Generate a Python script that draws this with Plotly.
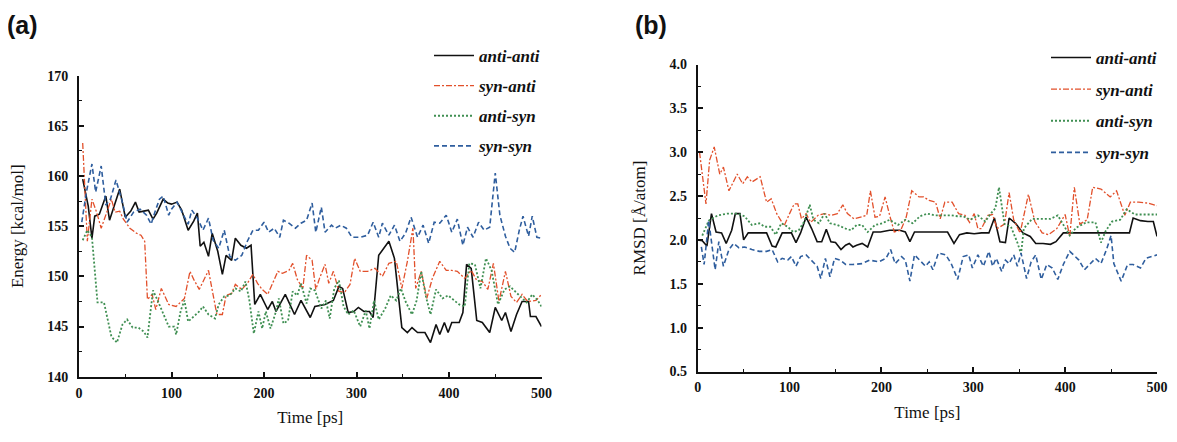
import plotly.graph_objects as go

# ---------------- Panel (a): Energy [kcal/mol] vs time [ps] ----------------
a_anti_anti_t = [4, 10, 14, 17, 22, 29, 33, 38, 44, 50, 56, 61, 65, 70, 75, 80, 84, 91, 96, 100,
                 106, 111, 118, 124, 128, 131, 135, 140, 144, 150, 155, 159, 165, 169, 175, 181, 186,
                 190, 196, 204, 209, 213, 223, 233, 240, 250, 255, 266, 275, 281, 285, 291, 297, 302,
                 308, 314, 318, 324, 335, 341, 349, 355, 360, 366, 374, 380, 386, 390, 395, 399, 403,
                 411, 415, 419, 424, 430, 436, 444, 450, 457, 461, 467, 473, 479, 486, 488, 494, 500]
a_anti_anti = [159.7, 157.0, 153.8, 156.0, 156.2, 158.0, 155.6, 157.0, 158.7, 155.9, 156.5, 157.4, 156.4,
               156.5, 156.6, 155.7, 156.3, 157.7, 157.3, 157.2, 157.4, 156.6, 154.6, 155.5, 156.3, 153.0,
               153.4, 152.0, 154.3, 152.5, 150.2, 152.1, 151.6, 153.8, 153.1, 152.8, 153.1, 147.2, 148.2,
               146.7, 147.5, 146.5, 148.2, 146.2, 147.6, 145.9, 147.0, 147.2, 147.6, 149.0, 148.8, 146.4,
               146.5, 146.9, 146.5, 146.5, 145.9, 152.1, 153.5, 151.8, 144.9, 144.4, 144.9, 144.4, 144.4,
               143.4, 145.2, 144.2, 145.4, 144.4, 145.4, 145.4, 146.4, 151.2, 150.8, 145.6, 145.4, 144.4,
               146.9, 145.6, 146.4, 144.5, 146.2, 147.5, 147.5, 146.0, 146.0, 145.0]

a_syn_anti_t = [4, 9, 14, 19, 24, 30, 35, 39, 44, 48, 55, 62, 67, 71, 74, 79, 83, 89, 97, 105, 114, 120,
                124, 130, 140, 149, 155, 159, 165, 169, 176, 182, 188, 193, 198, 204, 209, 215, 220, 227,
                231, 236, 242, 246, 252, 256, 260, 266, 270, 275, 281, 287, 293, 298, 304, 312, 320, 328,
                335, 343, 349, 355, 361, 364, 370, 376, 382, 390, 397, 403, 409, 417, 424, 430, 436, 442,
                448, 454, 461, 467, 473, 479, 485, 494, 500]
a_syn_anti = [163.3, 153.5, 157.7, 156.4, 154.8, 156.4, 157.7, 156.4, 156.5, 155.7, 154.8, 154.3, 154.1,
              153.5, 147.7, 148.2, 146.7, 148.8, 147.2, 147.0, 147.8, 150.5, 149.7, 148.7, 150.6, 146.2,
              146.2, 148.1, 148.3, 149.2, 148.7, 149.3, 150.2, 149.3, 148.7, 148.2, 149.2, 150.5, 150.3,
              150.6, 151.3, 149.7, 148.8, 152.1, 151.6, 148.7, 149.8, 151.2, 149.3, 150.5, 148.5, 148.4,
              149.2, 151.8, 150.5, 150.5, 150.8, 150.0, 151.3, 151.5, 148.8, 151.5, 154.8, 148.8, 150.5,
              147.8, 149.8, 151.5, 150.6, 150.6, 150.5, 149.8, 150.6, 149.6, 149.5, 148.7, 151.3, 147.5,
              150.5, 148.0, 147.4, 148.2, 147.5, 147.6, 148.2]

a_anti_syn_t = [4, 9, 14, 20, 27, 35, 41, 47, 52, 58, 64, 70, 74, 80, 85, 91, 97, 103, 105, 110, 114, 118,
                124, 130, 134, 140, 147, 151, 157, 163, 169, 175, 180, 184, 189, 194, 198, 202, 207, 213,
                216, 221, 226, 231, 236, 240, 246, 250, 255, 262, 267, 271, 276, 281, 286, 291, 297, 304,
                310, 314, 319, 324, 331, 337, 343, 348, 353, 360, 365, 370, 375, 380, 386, 393, 399, 405,
                411, 417, 422, 428, 434, 440, 446, 453, 460, 466, 471, 477, 484, 490, 496, 500]
a_anti_syn = [153.6, 154.6, 153.9, 147.4, 147.4, 144.0, 143.4, 145.2, 145.7, 144.9, 144.9, 144.5, 143.9,
              148.6, 147.6, 146.2, 145.0, 145.0, 144.2, 146.6, 147.6, 145.5, 146.0, 146.5, 147.0, 146.2,
              145.8, 147.2, 148.0, 148.1, 148.8, 148.5, 149.5, 147.7, 144.3, 146.5, 144.8, 146.5, 144.8,
              146.5, 147.8, 145.3, 145.6, 148.5, 148.1, 149.3, 147.3, 148.8, 148.6, 146.8, 147.6, 145.8,
              148.8, 149.6, 147.0, 146.2, 146.6, 145.0, 146.6, 144.8, 147.6, 145.7, 146.8, 148.1, 147.6,
              148.8, 147.5, 146.2, 147.6, 150.5, 148.0, 146.2, 148.7, 147.8, 148.1, 147.6, 147.2, 147.0,
              151.3, 151.2, 148.8, 151.8, 150.6, 147.2, 148.7, 149.0, 148.5, 148.0, 147.4, 148.2, 147.6,
              147.0]

a_syn_syn_t = [3, 8, 14, 18, 24, 29, 34, 40, 46, 52, 59, 66, 73, 78, 82, 87, 91, 97, 100, 106, 113, 118,
               122, 128, 134, 140, 145, 151, 157, 163, 169, 176, 182, 188, 194, 200, 205, 211, 217, 221,
               227, 234, 240, 246, 252, 256, 262, 266, 273, 277, 283, 289, 295, 304, 312, 318, 324, 328,
               335, 341, 347, 353, 359, 366, 372, 378, 384, 390, 397, 403, 409, 415, 420, 426, 432, 438,
               444, 450, 455, 461, 466, 471, 476, 480, 486, 490, 495, 500]
a_syn_syn = [155.4, 158.4, 161.2, 158.4, 161.0, 157.1, 157.7, 159.6, 157.7, 155.4, 156.4, 156.7, 156.1,
             155.2, 156.4, 157.7, 158.0, 156.1, 156.7, 157.4, 156.1, 155.2, 156.6, 155.8, 154.6, 155.8,
             153.6, 152.8, 154.6, 152.0, 151.6, 152.1, 153.5, 154.6, 154.6, 155.4, 154.4, 154.8, 153.9,
             155.6, 155.3, 154.8, 155.3, 155.6, 157.3, 154.4, 156.9, 154.4, 155.1, 154.8, 155.1, 154.8,
             153.9, 153.9, 154.1, 155.4, 153.9, 155.3, 154.1, 155.1, 153.5, 154.3, 155.9, 153.9, 155.1,
             153.3, 155.4, 155.3, 156.1, 154.4, 155.7, 153.1, 154.9, 153.9, 155.4, 154.6, 154.9, 160.3,
             156.1, 154.0, 152.8, 152.4, 154.6, 156.0, 154.0, 156.0, 153.9, 153.8]

# ---------------- Panel (b): RMSD [Å/atom] vs time [ps] ----------------
b_anti_anti_t = [0, 5, 10, 15, 20, 26, 31, 37, 41, 46, 50, 55, 61, 69, 75, 81, 85, 92, 98, 102, 107, 112,
                 118, 124, 130, 135, 140, 145, 150, 156, 161, 165, 169, 173, 179, 185, 191, 199, 209, 220,
                 226, 231, 236, 244, 254, 264, 272, 279, 285, 293, 301, 309, 317, 323, 329, 335, 339, 346,
                 354, 362, 368, 376, 384, 390, 398, 407, 415, 423, 431, 439, 447, 455, 463, 470, 474, 482,
                 490, 496, 500]
b_anti_anti = [2.00, 1.99, 1.93, 2.30, 2.09, 2.08, 1.96, 2.11, 2.30, 2.30, 2.00, 2.08, 2.08, 2.08, 2.08,
               1.93, 1.92, 2.08, 2.08, 2.08, 1.97, 2.08, 2.26, 2.13, 1.98, 1.98, 2.12, 1.98, 1.97, 1.89,
               1.94, 1.96, 1.92, 1.94, 1.96, 1.92, 2.09, 2.09, 2.11, 2.11, 2.09, 1.98, 2.09, 2.09, 2.09,
               2.09, 2.09, 1.96, 2.06, 2.08, 2.07, 2.08, 2.08, 2.25, 1.98, 1.97, 2.25, 2.19, 2.08, 2.04,
               1.96, 1.96, 1.95, 1.98, 2.08, 2.08, 2.08, 2.08, 2.08, 2.08, 2.08, 2.08, 2.08, 2.08, 2.25,
               2.22, 2.21, 2.21, 2.04]

b_syn_anti_t = [2, 9, 13, 18, 24, 28, 34, 43, 49, 54, 59, 68, 75, 80, 86, 94, 100, 105, 109, 113, 118,
                123, 131, 138, 145, 152, 158, 163, 170, 177, 184, 188, 193, 198, 204, 209, 214, 221, 227,
                233, 241, 246, 252, 259, 264, 269, 277, 284, 291, 296, 301, 305, 309, 316, 321, 326, 334,
                339, 344, 351, 360, 367, 375, 382, 391, 400, 405, 410, 416, 424, 430, 439, 449, 456, 465,
                471, 480, 490, 500]
b_syn_anti = [3.00, 2.41, 2.91, 3.06, 2.75, 2.83, 2.56, 2.75, 2.64, 2.72, 2.66, 2.72, 2.43, 2.47, 2.30,
              2.16, 2.30, 2.41, 2.41, 2.24, 2.30, 2.20, 2.28, 2.30, 2.28, 2.30, 2.40, 2.30, 2.24, 2.26,
              2.28, 2.56, 2.26, 2.27, 2.49, 2.28, 2.09, 2.11, 2.26, 2.56, 2.49, 2.49, 2.45, 2.43, 2.24,
              2.43, 2.43, 2.30, 2.28, 2.20, 2.30, 2.13, 2.13, 2.28, 2.29, 2.13, 2.18, 2.54, 2.23, 2.08,
              2.52, 2.21, 2.08, 2.06, 2.13, 2.29, 2.04, 2.60, 2.18, 2.23, 2.60, 2.58, 2.49, 2.56, 2.28,
              2.43, 2.43, 2.42, 2.39]

b_anti_syn_t = [5, 12, 22, 32, 43, 51, 59, 67, 73, 79, 85, 91, 98, 104, 110, 116, 122, 126, 132, 138, 144,
                152, 161, 167, 173, 179, 185, 193, 201, 209, 218, 226, 234, 242, 250, 258, 266, 276, 283,
                289, 297, 305, 313, 319, 324, 328, 334, 341, 348, 352, 355, 364, 373, 384, 392, 398, 405,
                412, 423, 433, 439, 444, 451, 460, 467, 476, 487, 500]
b_anti_syn = [2.05, 2.22, 2.28, 2.30, 2.30, 2.27, 2.17, 2.19, 2.15, 2.15, 2.06, 2.19, 2.15, 2.09, 2.11,
              2.21, 2.40, 2.23, 2.19, 2.30, 2.19, 2.17, 2.13, 2.11, 2.17, 2.17, 2.09, 2.17, 2.19, 2.23,
              2.17, 2.23, 2.19, 2.27, 2.30, 2.28, 2.28, 2.28, 2.27, 2.27, 2.23, 2.28, 2.21, 2.30, 2.36,
              2.60, 2.18, 2.15, 1.97, 1.84, 2.13, 2.24, 2.24, 2.24, 2.28, 2.18, 2.05, 2.14, 2.20, 2.20,
              1.97, 2.10, 2.21, 2.23, 2.35, 2.29, 2.29, 2.29]

b_syn_syn_t = [4, 7, 12, 16, 19, 23, 28, 34, 39, 45, 51, 59, 67, 75, 81, 87, 92, 98, 102, 107, 112, 118,
               124, 130, 134, 139, 144, 149, 155, 161, 169, 179, 187, 197, 205, 210, 215, 222, 226, 231,
               236, 242, 248, 252, 256, 262, 270, 276, 283, 289, 295, 299, 305, 311, 317, 321, 325, 331,
               335, 339, 344, 348, 352, 358, 363, 368, 374, 380, 386, 392, 398, 405, 411, 415, 421, 427,
               433, 439, 445, 450, 453, 461, 468, 474, 482, 488, 494, 500]
b_syn_syn = [1.92, 1.72, 2.22, 1.89, 1.66, 1.98, 1.70, 1.89, 1.96, 1.91, 1.92, 1.89, 1.87, 1.87, 1.89,
             1.75, 1.79, 1.77, 1.81, 1.70, 1.81, 1.83, 1.77, 1.70, 1.56, 1.79, 1.58, 1.79, 1.77, 1.72,
             1.72, 1.73, 1.77, 1.75, 1.79, 1.89, 1.73, 1.81, 1.77, 1.53, 1.83, 1.77, 1.70, 1.75, 1.66,
             1.85, 1.83, 1.73, 1.55, 1.81, 1.83, 1.68, 1.83, 1.70, 1.87, 1.70, 1.79, 1.64, 1.77, 1.73,
             1.83, 1.70, 1.85, 1.56, 1.75, 1.83, 1.55, 1.72, 1.68, 1.55, 1.72, 1.87, 1.81, 1.77, 1.66,
             1.73, 1.79, 1.73, 1.89, 2.05, 1.73, 1.53, 1.72, 1.72, 1.68, 1.79, 1.81, 1.83]

series_names = ["anti-anti", "syn-anti", "anti-syn", "syn-syn"]

# ---------------- styling ----------------
OFF = 8                                   # page body margin of the written html page
W, H = 1177 - 2 * OFF, 442 - 2 * OFF      # figure fits the window with no scrollbars


def px(xp):   # page x pixel -> paper fraction
    return (xp - OFF) / W


def py(yp):   # page y pixel -> paper fraction
    return 1 - (yp - OFF) / H


COLORS = ["#111111", "#E2502B", "#3F8F52", "#2F5E9E"]
DASHES = ["solid", "6px,2px,2px,2px", "2px,2px", "5px,3px"]
WIDTHS = [1.6, 1.3, 1.8, 1.6]
SERIF = "Liberation Serif"

fig = go.Figure()

panel_a = [(a_anti_anti_t, a_anti_anti), (a_syn_anti_t, a_syn_anti),
           (a_anti_syn_t, a_anti_syn), (a_syn_syn_t, a_syn_syn)]
panel_b = [(b_anti_anti_t, b_anti_anti), (b_syn_anti_t, b_syn_anti),
           (b_anti_syn_t, b_anti_syn), (b_syn_syn_t, b_syn_syn)]

for i, (t, v) in enumerate(panel_a):
    fig.add_trace(go.Scatter(
        x=t, y=v, mode="lines", name=series_names[i],
        line=dict(color=COLORS[i], dash=DASHES[i], width=WIDTHS[i]),
        xaxis="x", yaxis="y", legend="legend", legendgroup="a%d" % i))

for i, (t, v) in enumerate(panel_b):
    fig.add_trace(go.Scatter(
        x=t, y=v, mode="lines", name=series_names[i],
        line=dict(color=COLORS[i], dash=DASHES[i], width=WIDTHS[i]),
        xaxis="x2", yaxis="y2", legend="legend2", legendgroup="b%d" % i))

tickfont = dict(family=SERIF, size=14, color="#111", weight="bold")
titlefont = dict(family=SERIF, size=17, color="#111")


def xax(domain, anchor):
    return dict(domain=domain, anchor=anchor, range=[0, 500], dtick=100, tick0=0,
                ticks="inside", ticklen=5, tickwidth=1.5, tickcolor="#111",
                minor=dict(ticks="inside", ticklen=3, tickwidth=1.3, dtick=50, tickcolor="#111"),
                showline=True, linewidth=2, linecolor="#111", showgrid=False, zeroline=False,
                tickfont=tickfont, ticklabelstandoff=2, automargin=False,
                ticklabeloverflow="allow",
                title=dict(text="Time [ps]", font=titlefont, standoff=12))


def yax(domain, anchor, rng, dtick, mdtick, title, standoff, fmt):
    return dict(domain=domain, anchor=anchor, range=rng, dtick=dtick, tick0=rng[0],
                ticks="inside", ticklen=5, tickwidth=1.5, tickcolor="#111", tickformat=fmt,
                minor=dict(ticks="inside", ticklen=3, tickwidth=1.3, dtick=mdtick, tickcolor="#111"),
                showline=True, linewidth=2, linecolor="#111", showgrid=False, zeroline=False,
                tickfont=tickfont, ticklabelstandoff=6, automargin=False,
                ticklabeloverflow="allow",
                title=dict(text=title, font=titlefont, standoff=standoff))


legfont = dict(family=SERIF, size=17, color="#111", style="italic", weight="bold")

fig.update_layout(
    width=W, height=H,
    margin=dict(l=0, r=0, t=0, b=0, autoexpand=False),
    paper_bgcolor="white", plot_bgcolor="white",
    showlegend=True,
    xaxis=xax([px(79), px(541.5)], "y"),
    yaxis=yax([py(376.7), py(75.7)], "x", [140, 170], 5, 2.5, "Energy [kcal/mol]", 22, "d"),
    xaxis2=xax([px(697.7), px(1157)], "y2"),
    yaxis2=yax([py(371.5), py(64.5)], "x2", [0.5, 4.0], 0.5, 0.25, "RMSD [Å/atom]", 19, ".1f"),
    legend=dict(x=px(429), y=py(38), xanchor="left", yanchor="top", font=legfont,
                bgcolor="rgba(0,0,0,0)", tracegroupgap=5, itemwidth=40),
    legend2=dict(x=px(1046), y=py(40), xanchor="left", yanchor="top", font=legfont,
                 bgcolor="rgba(0,0,0,0)", tracegroupgap=6.5, itemwidth=40),
    annotations=[
        dict(text="(a)", x=px(5), y=py(25), xref="paper", yref="paper", xanchor="left",
             yanchor="middle", showarrow=False,
             font=dict(family="Liberation Sans", size=25, color="#111", weight="bold")),
        dict(text="(b)", x=px(633), y=py(25), xref="paper", yref="paper", xanchor="left",
             yanchor="middle", showarrow=False,
             font=dict(family="Liberation Sans", size=25, color="#111", weight="bold")),
    ],
)

fig.write_html("out.html")
